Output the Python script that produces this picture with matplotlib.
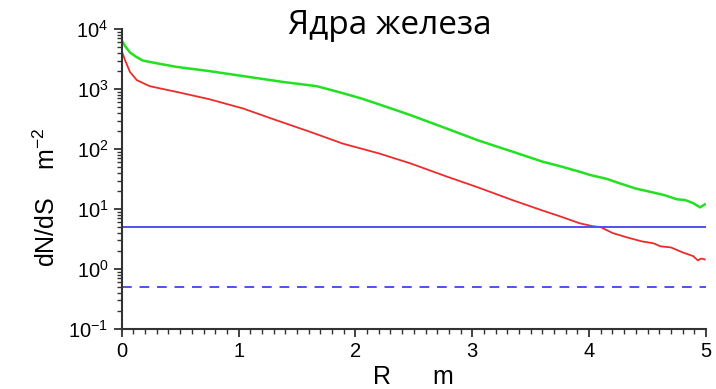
import matplotlib
matplotlib.use('Agg')
import matplotlib.pyplot as plt
from matplotlib.ticker import LogLocator, MultipleLocator, NullFormatter

# R (m) and dN/dS (m^-2)
r_green = [0.0, 0.03, 0.07, 0.12, 0.18, 0.3, 0.47, 0.75, 1.04, 1.38, 1.67,
           1.89, 2.05, 2.2, 2.47, 2.78, 3.05, 3.35, 3.6, 3.75, 3.92, 4.01,
           4.15, 4.26, 4.4, 4.52, 4.65, 4.75, 4.82, 4.89, 4.95, 4.99]
n_green = [6500, 5200, 4100, 3500, 3000, 2700, 2350, 2000, 1650, 1320, 1120,
           860, 700, 560, 370, 221, 140, 90, 62, 52, 42, 37,
           32, 27, 22, 19.5, 17, 14.6, 14.2, 12.6, 10.7, 12]

r_red = [0.0, 0.03, 0.07, 0.13, 0.24, 0.47, 0.75, 1.04, 1.32, 1.61, 1.89,
         2.2, 2.47, 2.78, 3.05, 3.35, 3.6, 3.75, 3.92, 4.03, 4.1, 4.2,
         4.32, 4.45, 4.55, 4.61, 4.7, 4.8, 4.89, 4.93, 4.96, 4.99]
n_red = [4300, 3000, 1940, 1410, 1120, 900, 680, 475, 305, 195, 124,
         85, 58, 35, 23, 14, 9.5, 7.6, 5.8, 5.2, 5.0, 4.0,
         3.4, 2.9, 2.7, 2.4, 2.3, 1.9, 1.65, 1.4, 1.5, 1.45]

level_solid = 5.0
level_dashed = 0.5

plt.rcParams['font.family'] = ['Liberation Sans', 'DejaVu Sans']
plt.rcParams['mathtext.default'] = 'regular'
plt.rcParams['axes.unicode_minus'] = False

fig = plt.figure(figsize=(7.16, 3.89), dpi=100)
ax = fig.add_axes([0.170, 0.154, 0.816, 0.771])

ax.plot(r_green, n_green, color='#22e022', lw=1.8)
ax.plot(r_red, n_red, color='#ee2b2b', lw=1.3)
ax.axhline(level_solid, color='#5050ee', lw=1.4)
ax.axhline(level_dashed, color='#5050ee', lw=1.4, ls=(0, (5, 4)))

ax.set_yscale('log')
ax.set_xlim(0, 5)
ax.set_ylim(0.1, 1e4)

ax.xaxis.set_major_locator(MultipleLocator(1))
ax.xaxis.set_minor_locator(MultipleLocator(0.1))
ax.yaxis.set_major_locator(LogLocator(base=10, numticks=10))
ax.yaxis.set_minor_locator(LogLocator(base=10, subs=range(2, 10), numticks=10))
ax.yaxis.set_minor_formatter(NullFormatter())

for side in ['top', 'right']:
    ax.spines[side].set_visible(False)
for side in ['left', 'bottom']:
    ax.spines[side].set_linewidth(1.5)
    ax.spines[side].set_color('#333333')

ax.tick_params(which='major', direction='out', length=6, width=1.3,
               labelsize=14.5, color='#333333')
ax.tick_params(which='minor', direction='out', length=3.5, width=1.0,
               color='#333333')

ax.set_xlabel('R      m', fontsize=18)
ax.xaxis.set_label_coords(0.5, -0.12)
ax.set_ylabel('dN/dS    m$^{-2}$', fontsize=18)
ax.yaxis.set_label_coords(-0.105, 0.44)

fig.text(0.545, 0.978, 'Ядра железа', fontsize=24, ha='center',
         va='top', family=['Open Sans', 'DejaVu Sans'])

fig.savefig('out.png', dpi=100)
